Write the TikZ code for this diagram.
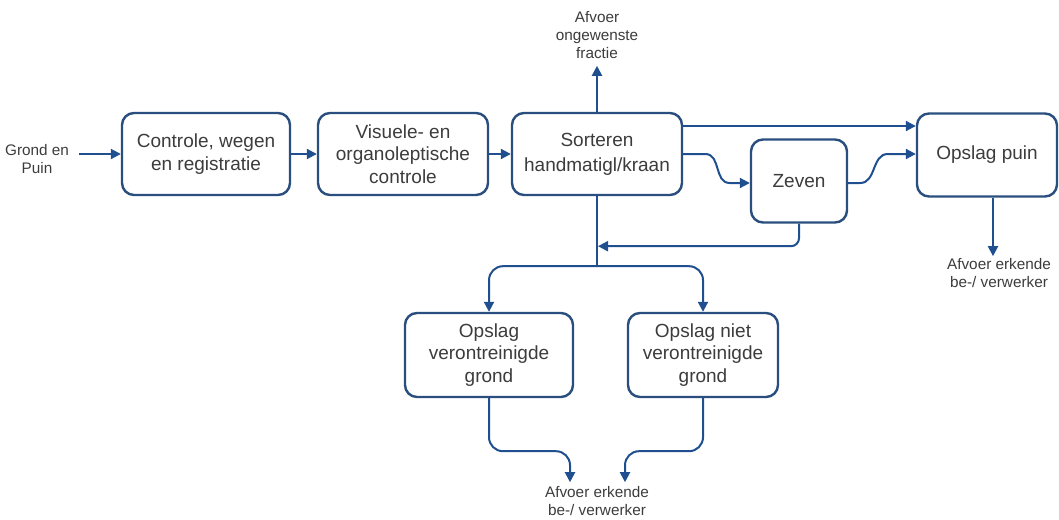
\documentclass[tikz,border=0pt]{standalone}
\usepackage{fontspec}
\setmainfont{Liberation Sans}
\usetikzlibrary{arrows.meta,calc}
\definecolor{edge}{HTML}{2A4F7E}
\definecolor{arr}{HTML}{1F4F8F}
\definecolor{txt}{HTML}{3C3C3C}
\begin{document}
\begin{tikzpicture}[x=1pt,y=-1pt,
 box/.style={draw=edge,line width=2.4pt,rounded corners=12pt,fill=white,text=txt,align=center,font=\fontsize{19}{22.5}\selectfont,inner sep=0pt},
 lab/.style={text=txt,align=center,font=\fontsize{15.3}{18}\selectfont,inner sep=2pt},
 line/.style={draw=arr,line width=2pt},
 flow/.style={line,-{Triangle[length=10pt,width=10pt]}},
]
\useasboundingbox (0,0) rectangle (1059,519);
\node[box,minimum width=168pt,minimum height=82pt] (b1) at (206,154) {Controle, wegen\\en registratie};
\node[box,minimum width=170pt,minimum height=82pt] (b2) at (403,154) {Visuele- en\\organoleptische\\controle};
\node[box,minimum width=170pt,minimum height=82pt,font=\fontsize{19}{25}\selectfont] (b3) at (597,154) {Sorteren\\handmatigl/kraan};
\node[box,minimum width=96pt,minimum height=83pt] (z) at (799,181) {Zeven};
\node[box,minimum width=140pt,minimum height=83pt] (p) at (987,155) {Opslag puin};
\node[box,minimum width=168pt,minimum height=84pt] (o1) at (489,355) {Opslag\\verontreinigde\\grond};
\node[box,minimum width=150pt,minimum height=84pt] (o2) at (703,355) {Opslag niet\\verontreinigde\\grond};

\node[lab] (in) at (37,159) {Grond en\\Puin};
\node[lab] (out1) at (597,35) {Afvoer\\ongewenste\\fractie};
\node[lab] (out2) at (999,273) {Afvoer erkende\\be-/ verwerker};
\node[lab] (out3) at (597,501) {Afvoer erkende\\be-/ verwerker};

\draw[flow] ([xshift=8pt]in.east |- b1.west) -- (b1.west);
\draw[flow] (b1.east) -- (b2.west);
\draw[flow] (b2.east) -- (b3.west);
\draw[flow] (b3.north) -- ++(0,-46);
\draw[flow] ([yshift=28pt]b3.east) -- ([yshift=28pt]b3.east -| p.west);
\draw[flow] (b3.east) -- ++(22,0) .. controls +(16,0) and +(-16,0) .. ($(z.west)+(-20,2)$) -- ($(z.west)+(0,2)$);
\draw[flow] ($(z.east)+(0,2)$) -- ++(12,0) .. controls +(16,0) and +(-16,0) .. ($(p.west)+(-28,-1)$) -- ($(p.west)+(0,-1)$);
\draw[flow,rounded corners=8pt] (z.south) |- ($(b3.south)+(1,50)$);
\coordinate (split) at ($(b3.south)+(0,70)$);
\draw[line] (b3.south) -- (split);
\draw[flow,rounded corners=14pt] (split) -| (o1.north);
\draw[flow,rounded corners=14pt] (split) -| (o2.north);
\draw[flow,rounded corners=14pt] (o1.south) -- ++(0,53) -| ($(out3.north)+(-27,-2)$);
\draw[flow,rounded corners=14pt] (o2.south) -- ++(0,53) -| ($(out3.north)+(28,-2)$);
\draw[flow] ([xshift=6pt]p.south) -- ([xshift=6pt]p.south |- out2.north);
\end{tikzpicture}
\end{document}
